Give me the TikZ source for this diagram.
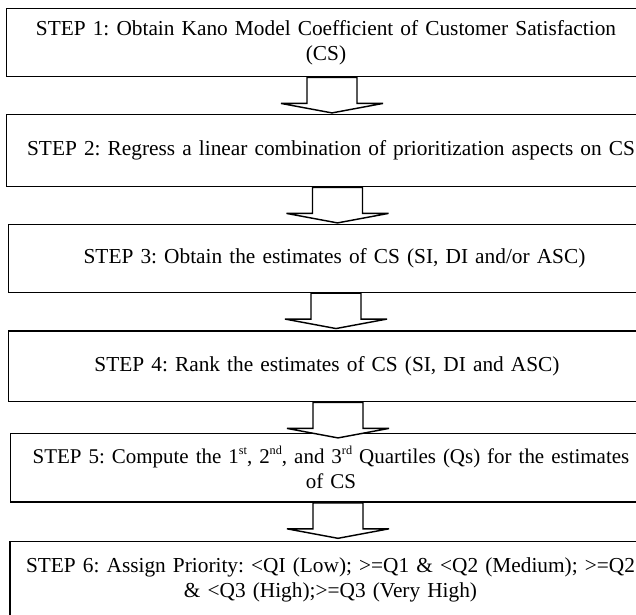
\documentclass[tikz,border=0pt]{standalone}
\usepackage{fontspec}
\setmainfont{Liberation Serif}
\usetikzlibrary{positioning}
\frenchspacing
\newcommand{\ordsup}[1]{\raisebox{0.42em}{\fontsize{6.8pt}{7pt}\selectfont #1}}
\tikzset{%
	stepbox/.style = {draw, line width = 0.8pt, text width = 345pt, align = center, inner sep = 1pt, font = \fontsize{11.85pt}{14pt}\selectfont},
	hollow/.style = {draw, line width = 0.8pt, fill = white, line join = miter}
}
% block arrow hanging under a box, #2 = sideways shift
\newcommand{\steparrow}[2]{\path [hollow] (#1.south) ++(#2,0) ++(-25,0) -- ++(0,26) -- ++(-26,0) -- ++(51,9.5) -- ++(51,-9.5) -- ++(-26,0) -- ++(0,-26) -- cycle;}

\begin{document}
\begin{tikzpicture}[x=0.5556pt, y=-0.5556pt]
			\clip (0,0) rectangle (636,614);
			\useasboundingbox (0,0) rectangle (636,614);
			\node [stepbox, minimum width = 354.8pt, minimum height = 38pt] (step1) at (326,42.5) {STEP 1: Obtain Kano Model Coefficient of Customer Satisfaction\\(CS)};
			\node [stepbox, minimum width = 360.4pt, minimum height = 40.2pt] (step2) at (331,150.5) {STEP 2: Regress a linear combination of prioritization aspects on CS};
			\node [stepbox, minimum width = 362pt, minimum height = 37.8pt] (step3) at (334.5,258.3) {STEP 3: Obtain the estimates of CS (SI, DI and/or ASC)};
			\node [stepbox, minimum width = 353.7pt, minimum height = 39.3pt] (step4) at (327,366.3) {STEP 4: Rank the estimates of CS (SI, DI and ASC)};
			\node [stepbox, minimum width = 355.9pt, minimum height = 38.2pt, font = \fontsize{11.65pt}{14pt}\selectfont] (step5) at (331,467.7) {STEP 5: Compute the 1\ordsup{st}, 2\ordsup{nd}, and 3\ordsup{rd} Quartiles (Qs) for the estimates\\of CS};
			\node [stepbox, minimum width = 356.1pt, minimum height = 42pt] (step6) at (330.5,579.5) {STEP 6: Assign Priority: <QI (Low); >=Q1 \& <Q2 (Medium); >=Q2\\\& <Q3 (High);>=Q3 (Very High)};
			\steparrow{step1}{6}
			\steparrow{step2}{6.5}
			\steparrow{step3}{1.5}
			\steparrow{step4}{11}
			\steparrow{step5}{7}
\end{tikzpicture}
\end{document}
